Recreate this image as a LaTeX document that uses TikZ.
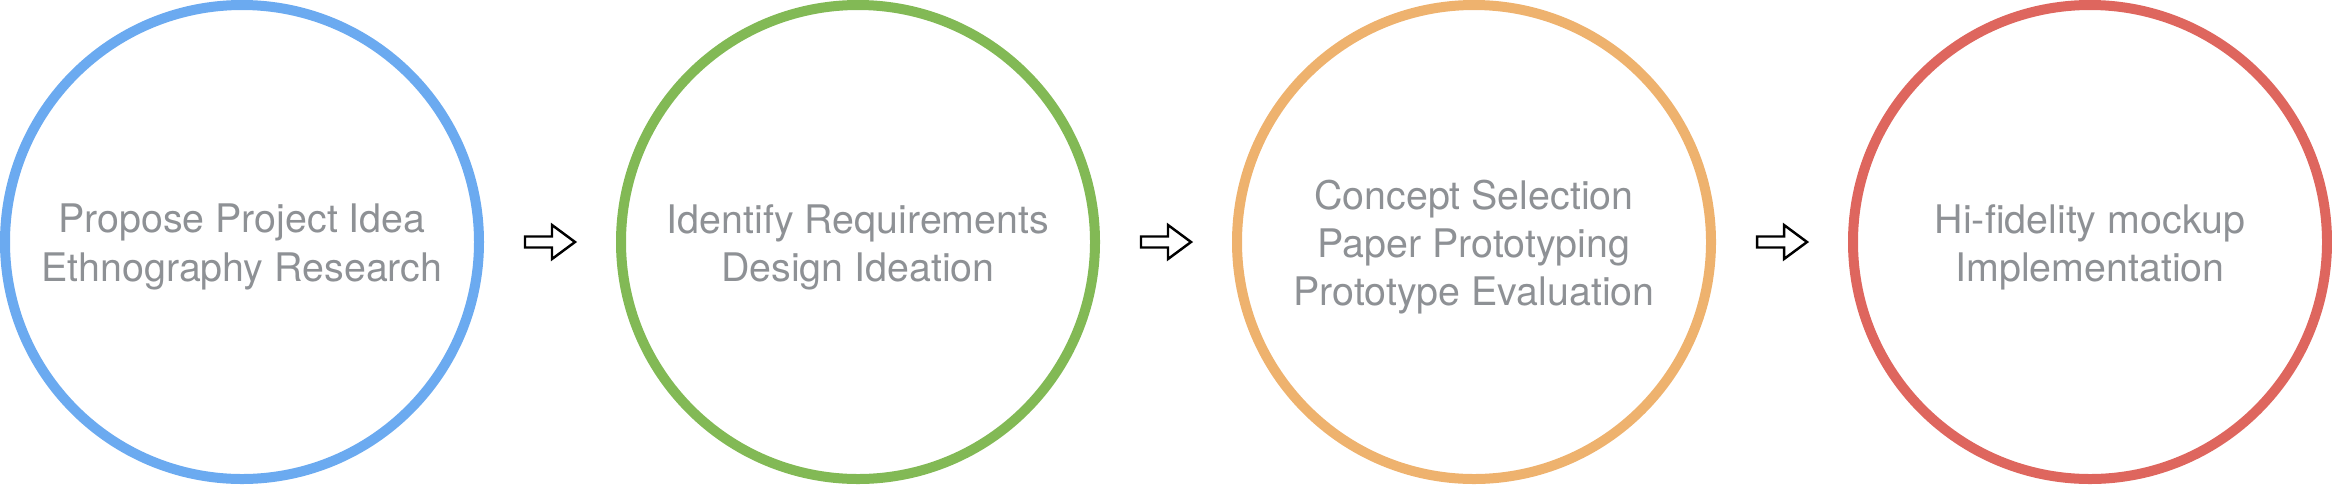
\documentclass[tikz,border=0pt]{standalone}
\usepackage{fontspec}
\setmainfont{TeX Gyre Heros}
\usepackage{tikz}
\usetikzlibrary{calc,positioning}

\definecolor{stepblue}{RGB}{107,170,240}
\definecolor{stepgreen}{RGB}{130,185,85}
\definecolor{steporange}{RGB}{238,178,110}
\definecolor{stepred}{RGB}{222,102,94}
\definecolor{labelgray}{RGB}{142,145,149}

\tikzset{
  stage/.style={circle,draw=#1,line width=1mm,minimum size=4.74cm},
  stagetext/.style={text=labelgray,align=center,font=\fontsize{11.2}{13.7}\selectfont},
  blockarrow/.style={draw=black,fill=white,line width=0.7pt,line join=miter}
}

\begin{document}
\begin{tikzpicture}
  \useasboundingbox (0,0) rectangle (23.32,4.84);
  \node[stage=stepblue]   (s1) at (2.42,2.42)  {};
  \node[stage=stepgreen]  (s2) at (8.58,2.42)  {};
  \node[stage=steporange] (s3) at (14.74,2.42) {};
  \node[stage=stepred]    (s4) at (20.90,2.42) {};
  \node[stagetext] (t1) at ([yshift=-0.5mm]s1) {Propose Project Idea\\Ethnography Research};
  \node[stagetext] (t2) at ([yshift=-0.5mm]s2) {Identify Requirements\\Design Ideation};
  \node[stagetext] (t3) at ([yshift=-0.5mm]s3) {Concept Selection\\Paper Prototyping\\Prototype Evaluation};
  \node[stagetext] (t4) at ([yshift=-0.5mm]s4) {Hi-fidelity mockup\\Implementation};
  % outline arrows halfway between the circles
  \coordinate (a1) at ($(s1)!0.5!(s2)$);
  \coordinate (a2) at ($(s2)!0.5!(s3)$);
  \coordinate (a3) at ($(s3)!0.5!(s4)$);
  \draw[blockarrow] (a1) ++(-0.25,0.055) -- ++(0.27,0) -- ++(0,0.115) -- ++(0.23,-0.17)
    -- ++(-0.23,-0.17) -- ++(0,0.115) -- ++(-0.27,0) -- cycle;
  \draw[blockarrow] (a2) ++(-0.25,0.055) -- ++(0.27,0) -- ++(0,0.115) -- ++(0.23,-0.17)
    -- ++(-0.23,-0.17) -- ++(0,0.115) -- ++(-0.27,0) -- cycle;
  \draw[blockarrow] (a3) ++(-0.25,0.055) -- ++(0.27,0) -- ++(0,0.115) -- ++(0.23,-0.17)
    -- ++(-0.23,-0.17) -- ++(0,0.115) -- ++(-0.27,0) -- cycle;
\end{tikzpicture}
\end{document}
